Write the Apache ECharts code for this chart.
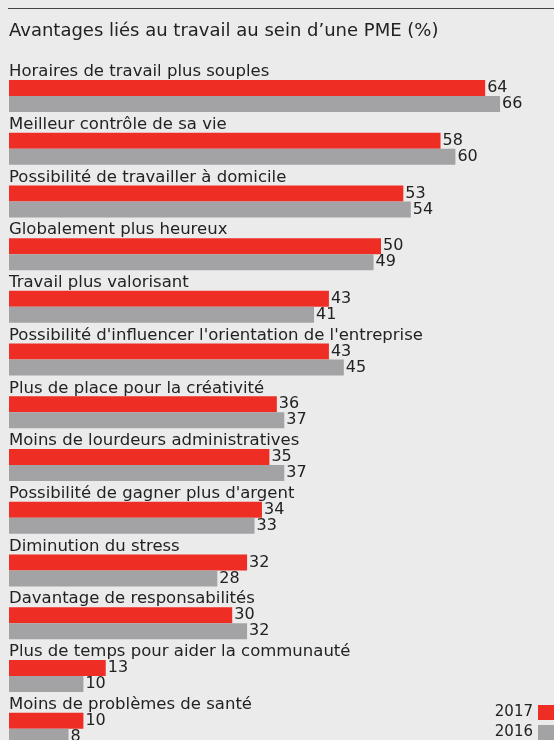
<!DOCTYPE html>
<html>
<head>
<meta charset="utf-8">
<script src="https://cdn.jsdelivr.net/npm/echarts@6/dist/echarts.min.js"></script>
<style>
  html, body { margin: 0; padding: 0; background: #ebebeb; }
  #chart { width: 554px; height: 740px; }
</style>
</head>
<body>
<div id="chart"></div>
<script>
// Avantages liés au travail au sein d'une PME (%)
const categories = [
  'Horaires de travail plus souples',
  'Meilleur contrôle de sa vie',
  'Possibilité de travailler à domicile',
  'Globalement plus heureux',
  'Travail plus valorisant',
  "Possibilité d'influencer l'orientation de l'entreprise",
  'Plus de place pour la créativité',
  'Moins de lourdeurs administratives',
  "Possibilité de gagner plus d'argent",
  'Diminution du stress',
  'Davantage de responsabilités',
  'Plus de temps pour aider la communauté',
  'Moins de problèmes de santé'
];
const values2017 = [64, 58, 53, 50, 43, 43, 36, 35, 34, 32, 30, 13, 10];
const values2016 = [66, 60, 54, 49, 41, 45, 37, 37, 33, 28, 32, 10, 8];

const font = 'DejaVu Sans';
const red = '#ee2d24';
const grey = '#a3a3a6';
const ink = '#222';

const chart = echarts.init(document.getElementById('chart'), null, { renderer: 'canvas' });

function barSeries(name, data, color) {
  return {
    name: name,
    type: 'bar',
    data: data,
    barWidth: 16,
    barGap: '0%',
    itemStyle: { color: color },
    label: {
      show: true,
      position: 'right',
      distance: 2,
      color: ink,
      fontFamily: font,
      fontSize: 16
    },
    emphasis: { disabled: true }
  };
}

function legendRow(name, top) {
  return {
    data: [name],
    right: 0,
    top: top,
    align: 'right',
    itemWidth: 16,
    itemHeight: 15,
    icon: 'rect',
    padding: 0,
    textStyle: { fontFamily: font, fontSize: 15, color: ink }
  };
}

chart.setOption({
  backgroundColor: '#ebebeb',
  animation: false,
  title: {
    text: 'Avantages liés au travail au sein d’une PME (%)',
    left: 4,
    top: 17,
    textStyle: { fontFamily: font, fontSize: 18, fontWeight: 'normal', color: ink }
  },
  graphic: [{
    type: 'line',
    shape: { x1: 8, y1: 8.5, x2: 554, y2: 8.5 },
    style: { stroke: '#444', lineWidth: 1 }
  }],
  legend: [legendRow('2017', 705), legendRow('2016', 725)],
  grid: {
    left: 9,
    top: 69.6,
    width: 520.8,
    height: 685.4,
    outerBoundsMode: 'none',
    containLabel: false
  },
  xAxis: {
    type: 'value',
    min: 0,
    max: 70,
    show: false
  },
  yAxis: {
    type: 'category',
    data: categories,
    inverse: true,
    z: 10,
    axisLine: { show: false },
    axisTick: { show: false },
    axisLabel: {
      inside: true,
      interval: 0,
      margin: 0,
      color: ink,
      fontFamily: font,
      fontSize: 16.5,
      verticalAlign: 'bottom',
      lineHeight: 48
    }
  },
  series: [
    barSeries('2017', values2017, red),
    barSeries('2016', values2016, grey)
  ]
});
</script>
</body>
</html>
